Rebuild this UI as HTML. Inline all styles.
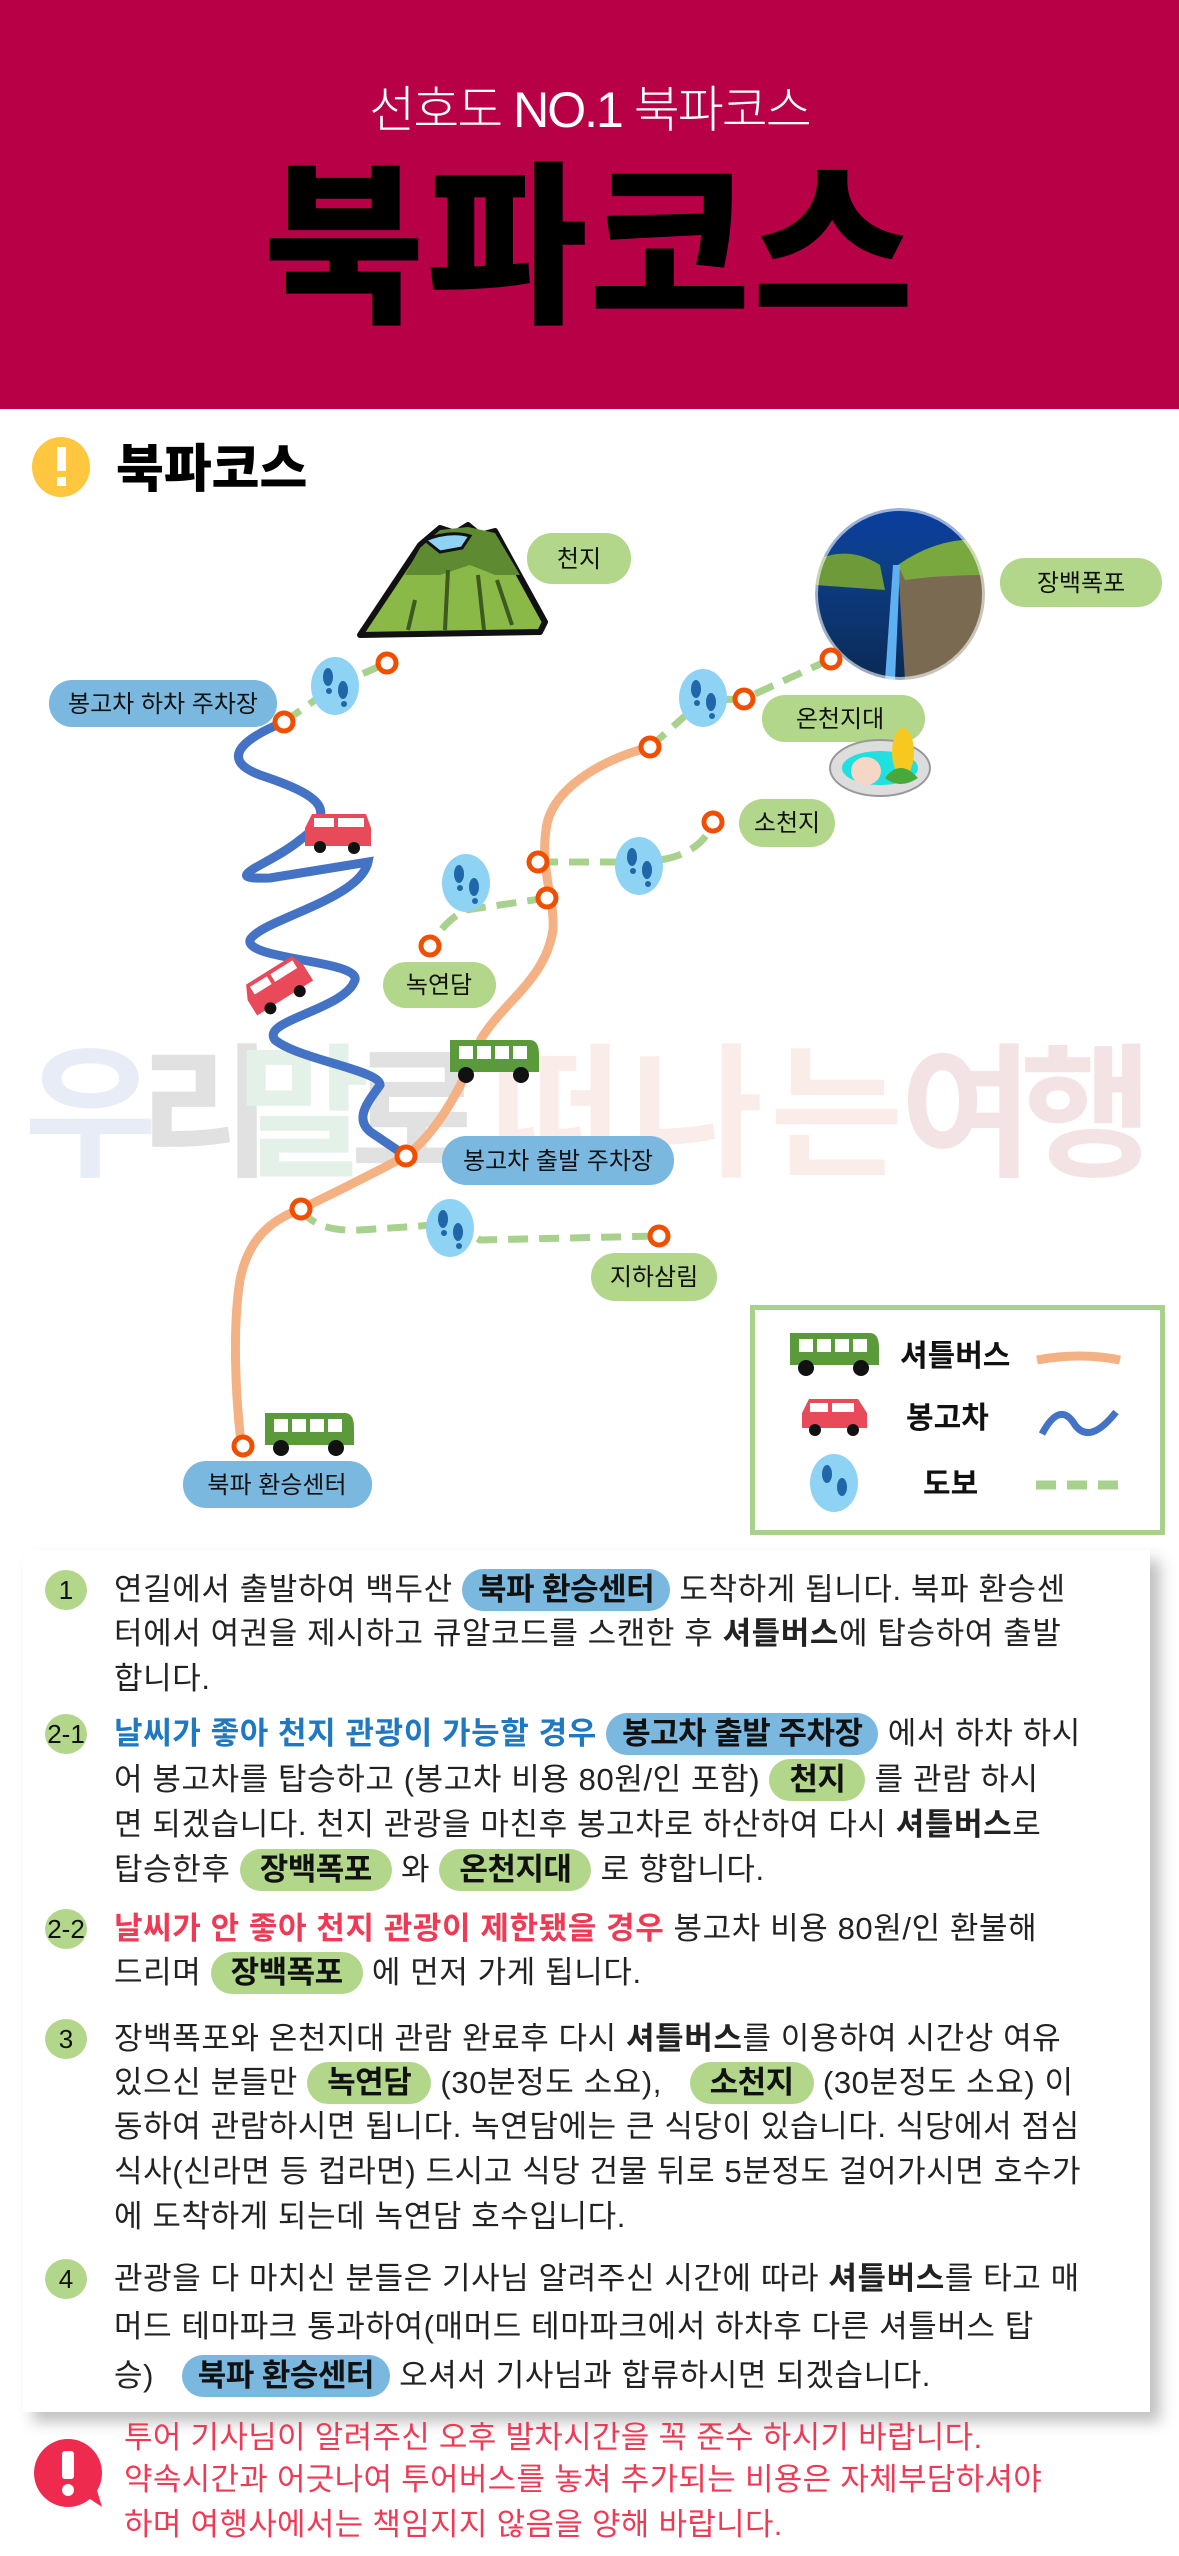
<!DOCTYPE html>
<html><head><meta charset="utf-8">
<style>
*{margin:0;padding:0;box-sizing:border-box}
body{width:1179px;height:2556px;background:#fff;position:relative;overflow:hidden;font-family:"Liberation Sans","Noto Sans CJK KR",sans-serif;color:#222}
.abs{position:absolute}
.hdr{left:0;top:0;width:1179px;height:409px;background:#b80046}
.sub{left:0;width:1179px;top:70px;text-align:center;color:#fff;font-size:50px;font-weight:300;letter-spacing:-2px}
.big{left:0;width:1179px;top:150px;text-align:center;color:#000;font-size:175px;font-weight:900;letter-spacing:2px;line-height:200px}
.ln{position:absolute;left:114px;font-size:31px;line-height:44px;white-space:nowrap;letter-spacing:0.6px;color:#222}
.pb{display:inline-block;background:#7ab8e0;border-radius:22px;padding:0 16px;font-weight:700;color:#111;line-height:42px;letter-spacing:-0.5px}
.pg{display:inline-block;background:#b2d68a;border-radius:22px;padding:0 20px;font-weight:700;color:#111;line-height:42px;letter-spacing:-0.5px}
.num{position:absolute;left:45px;width:42px;height:40px;border-radius:50%;background:#b2d68a;font-size:26px;text-align:center;line-height:40px;color:#111}
.w{position:absolute;left:124px;font-size:31px;line-height:44px;color:#ee3a55;white-space:nowrap;letter-spacing:0.3px}
</style></head><body>
<div class="abs hdr"></div>
<div class="abs sub">선호도 NO.1 북파코스</div>
<div class="abs big">북파코스</div>

<svg class="abs" style="left:0;top:409px" width="1179" height="1140" viewBox="0 409 1179 1140">
<ellipse cx="61" cy="467" rx="29" ry="30" fill="#ffc640"/>
<rect x="57" y="447" width="9" height="24" fill="#fff"/><rect x="57" y="477" width="9" height="9" fill="#fff"/>
<text x="116" y="487" font-size="52" font-weight="900" fill="#000" font-family="Liberation Sans,Noto Sans CJK KR,sans-serif">북파코스</text>

<!-- watermark -->
<g font-size="145" font-weight="700" font-family="Liberation Sans,Noto Sans CJK KR,sans-serif" opacity="0.13">
<text x="24" y="1165" fill="#4f74c0">우</text><text x="139" y="1165" fill="#222">리</text>
<text x="237" y="1165" fill="#2f9a5a">말</text><text x="350" y="1165" fill="#222">로</text>
<text x="490" y="1165" fill="#e07a5a">떠</text><text x="630" y="1165" fill="#e07a5a">나</text><text x="770" y="1165" fill="#e07a5a">는</text>
<text x="900" y="1165" fill="#b0303f">여</text><text x="1020" y="1165" fill="#b0303f">행</text>
</g>

<!-- volcano -->
<path d="M360 635 L420 545 L440 528 L455 533 L468 525 L480 535 L495 531 L545 622 L540 632 Z" fill="#8bb947" stroke="#111" stroke-width="6" stroke-linejoin="round"/>
<path d="M420 548 L440 530 L468 527 L495 533 L520 575 L495 575 L470 565 L440 575 L405 575 Z" fill="#5e8a32"/>
<path d="M425 540 Q450 530 470 536 L462 548 L440 552 Z" fill="#8fd3f4" stroke="#111" stroke-width="3"/>
<g stroke="#3d5a20" stroke-width="4" fill="none"><path d="M415 600 L408 630"/><path d="M448 570 L445 630"/><path d="M478 575 L484 630"/><path d="M497 580 L512 625"/></g>

<!-- waterfall -->
<defs>
<linearGradient id="sky" x1="0" y1="0" x2="0" y2="1"><stop offset="0" stop-color="#0a3ea0"/><stop offset="0.3" stop-color="#0d3f8a"/><stop offset="1" stop-color="#0b2a55"/></linearGradient>
<clipPath id="wc"><ellipse cx="900" cy="594" rx="85" ry="86"/></clipPath>
</defs>
<g clip-path="url(#wc)">
<ellipse cx="900" cy="594" rx="85" ry="86" fill="url(#sky)"/>
<path d="M815 560 Q850 545 880 565 L885 590 L815 585 Z" fill="#6f9a3a"/>
<path d="M898 565 Q940 535 990 545 L990 680 L905 680 Z" fill="#7a6a52"/>
<path d="M898 565 Q940 535 990 540 L990 575 Q940 575 905 580 Z" fill="#79a83e"/>
<path d="M893 565 L900 565 L895 680 L885 680 Z" fill="#5fb0f0"/>
</g>
<ellipse cx="900" cy="594" rx="85" ry="86" fill="none" stroke="#fff" stroke-width="6" opacity="0.6"/>

<!-- blue road -->
<path d="M284 722 C240 740 220 760 260 775 C320 795 340 810 300 840 C270 865 215 880 270 878 L368 862 C360 900 260 920 250 940 C245 960 360 960 355 980 C345 1010 260 1020 275 1040 C300 1060 380 1070 380 1085 C370 1100 350 1120 375 1135 L406 1156" fill="none" stroke="#4472c4" stroke-width="9" stroke-linecap="round"/>

<!-- orange shuttle path -->
<path d="M241 1443 C236 1400 232 1330 240 1280 C248 1240 270 1220 301 1209 C330 1195 370 1175 406 1156 C440 1130 465 1080 481 1039 C505 1000 545 980 553 930 C555 900 540 870 546 830 C550 790 600 760 650 747" fill="none" stroke="#f4b183" stroke-width="9" stroke-linecap="round"/>

<g fill="none" stroke="#a9d18e" stroke-width="7" stroke-dasharray="20 11">
<path d="M284 722 L335 686 L387 663"/>
<path d="M650 747 L703 700 L744 699 L831 659"/>
<path d="M538 862 L639 862 Q700 860 713 822"/>
<path d="M547 898 L466 910 Q445 920 430 946"/>
<path d="M301 1209 Q315 1232 360 1230 L420 1226 Q455 1222 480 1240 L659 1236"/>
</g>

<g fill="#8fd3f4">
<ellipse cx="335" cy="686" rx="24" ry="29"/><ellipse cx="703" cy="698" rx="24" ry="29"/>
<ellipse cx="639" cy="866" rx="24" ry="29"/><ellipse cx="466" cy="883" rx="24" ry="29"/>
<ellipse cx="450" cy="1228" rx="24" ry="29"/>
</g>
<g fill="#1f67a8">
<ellipse cx="328" cy="677" rx="5" ry="9"/><ellipse cx="343" cy="690" rx="5" ry="9"/><circle cx="329" cy="691" r="3"/><circle cx="344" cy="704" r="3"/>
<ellipse cx="696" cy="689" rx="5" ry="9"/><ellipse cx="711" cy="702" rx="5" ry="9"/><circle cx="697" cy="703" r="3"/><circle cx="712" cy="716" r="3"/>
<ellipse cx="632" cy="857" rx="5" ry="9"/><ellipse cx="647" cy="870" rx="5" ry="9"/><circle cx="633" cy="871" r="3"/><circle cx="648" cy="884" r="3"/>
<ellipse cx="459" cy="874" rx="5" ry="9"/><ellipse cx="474" cy="887" rx="5" ry="9"/><circle cx="460" cy="888" r="3"/><circle cx="475" cy="901" r="3"/>
<ellipse cx="443" cy="1219" rx="5" ry="9"/><ellipse cx="458" cy="1232" rx="5" ry="9"/><circle cx="444" cy="1233" r="3"/><circle cx="459" cy="1246" r="3"/>
</g>

<g fill="#fff" stroke="#f04e00" stroke-width="5">
<circle cx="387" cy="663" r="9"/><circle cx="284" cy="722" r="9"/><circle cx="831" cy="659" r="9"/>
<circle cx="744" cy="699" r="9"/><circle cx="650" cy="747" r="9"/><circle cx="713" cy="822" r="9"/>
<circle cx="538" cy="862" r="9"/><circle cx="547" cy="898" r="9"/><circle cx="430" cy="946" r="9"/>
<circle cx="406" cy="1156" r="9"/><circle cx="301" cy="1209" r="9"/><circle cx="659" cy="1236" r="9"/>
<circle cx="243" cy="1446" r="9"/>
</g>

<g>
<path d="M305 828 L312 814 L366 814 L371 828 L371 846 L305 846 Z" fill="#e84a5a"/>
<rect x="314" y="818" width="20" height="9" fill="#fff"/><rect x="338" y="818" width="26" height="9" fill="#fff"/>
<circle cx="320" cy="847" r="6" fill="#111"/><circle cx="354" cy="848" r="6" fill="#111"/>
</g>
<g transform="rotate(-32 279 990)">
<path d="M247 982 L254 968 L308 968 L313 982 L313 1000 L247 1000 Z" fill="#e84a5a"/>
<rect x="256" y="972" width="20" height="9" fill="#fff"/><rect x="280" y="972" width="26" height="9" fill="#fff"/>
<circle cx="262" cy="1001" r="6" fill="#111"/><circle cx="296" cy="1002" r="6" fill="#111"/>
</g>

<g>
<path d="M450 1040 L530 1040 Q539 1040 539 1055 L539 1072 L450 1072 Z" fill="#5a9a3a"/>
<rect x="459" y="1046" width="14" height="13" fill="#fff"/><rect x="477" y="1046" width="14" height="13" fill="#fff"/><rect x="495" y="1046" width="14" height="13" fill="#fff"/><rect x="513" y="1046" width="14" height="13" fill="#fff"/>
<circle cx="466" cy="1075" r="8" fill="#111"/><circle cx="521" cy="1075" r="8" fill="#111"/>
</g>
<g>
<path d="M265 1413 L345 1413 Q354 1413 354 1428 L354 1445 L265 1445 Z" fill="#5a9a3a"/>
<rect x="274" y="1419" width="14" height="13" fill="#fff"/><rect x="292" y="1419" width="14" height="13" fill="#fff"/><rect x="310" y="1419" width="14" height="13" fill="#fff"/><rect x="328" y="1419" width="14" height="13" fill="#fff"/>
<circle cx="281" cy="1448" r="8" fill="#111"/><circle cx="336" cy="1448" r="8" fill="#111"/>
</g>

<g font-family="Liberation Sans,Noto Sans CJK KR,sans-serif" font-size="24" fill="#111" text-anchor="middle">
<rect x="527" y="533" width="104" height="51" rx="25" fill="#b2d68a"/><text x="579" y="567">천지</text>
<rect x="1000" y="558" width="162" height="49" rx="24" fill="#b2d68a"/><text x="1081" y="591">장백폭포</text>
<rect x="49" y="680" width="228" height="47" rx="23" fill="#7ab8e0"/><text x="163" y="712">봉고차 하차 주차장</text>
<rect x="762" y="695" width="163" height="47" rx="23" fill="#b2d68a"/><text x="840" y="727">온천지대</text>
<rect x="739" y="799" width="96" height="48" rx="24" fill="#b2d68a"/><text x="787" y="831">소천지</text>
<rect x="383" y="962" width="113" height="46" rx="23" fill="#b2d68a"/><text x="439" y="993">녹연담</text>
<rect x="442" y="1136" width="232" height="49" rx="24" fill="#7ab8e0"/><text x="558" y="1169">봉고차 출발 주차장</text>
<rect x="591" y="1253" width="126" height="48" rx="24" fill="#b2d68a"/><text x="654" y="1285">지하삼림</text>
<rect x="183" y="1461" width="189" height="47" rx="23" fill="#7ab8e0"/><text x="277" y="1493">북파 환승센터</text>
</g>
<!-- onsen -->
<ellipse cx="880" cy="768" rx="50" ry="28" fill="#ddd" stroke="#999" stroke-width="2"/>
<ellipse cx="880" cy="768" rx="38" ry="17" fill="#20e0e0"/>
<ellipse cx="866" cy="771" rx="15" ry="14" fill="#f6d6c4"/>
<ellipse cx="903" cy="752" rx="11" ry="24" fill="#f6c820"/>
<path d="M885 778 Q900 758 918 778 Q900 790 885 778" fill="#4aa83a"/>

<!-- legend -->
<rect x="752.5" y="1307.5" width="410" height="225" fill="#fff" stroke="#a9d18e" stroke-width="5"/>
<path d="M790 1333 L870 1333 Q879 1333 879 1348 L879 1365 L790 1365 Z" fill="#5a9a3a"/>
<rect x="799" y="1339" width="14" height="13" fill="#fff"/><rect x="817" y="1339" width="14" height="13" fill="#fff"/><rect x="835" y="1339" width="14" height="13" fill="#fff"/><rect x="853" y="1339" width="14" height="13" fill="#fff"/>
<circle cx="806" cy="1368" r="8" fill="#111"/><circle cx="861" cy="1368" r="8" fill="#111"/>
<path d="M802 1413 L809 1399 L858 1399 L867 1413 L867 1428 L802 1428 Z" fill="#e84a5a"/>
<rect x="810" y="1403" width="18" height="9" fill="#fff"/><rect x="832" y="1403" width="22" height="9" fill="#fff"/>
<circle cx="815" cy="1430" r="6" fill="#111"/><circle cx="853" cy="1430" r="6" fill="#111"/>
<ellipse cx="834" cy="1483" rx="24" ry="29" fill="#8fd3f4"/>
<ellipse cx="827" cy="1474" rx="5" ry="9" fill="#1f67a8"/><ellipse cx="842" cy="1487" rx="5" ry="9" fill="#1f67a8"/>
<g font-family="Liberation Sans,Noto Sans CJK KR,sans-serif" font-size="30" font-weight="700" fill="#111">
<text x="900" y="1366">셔틀버스</text><text x="906" y="1428">봉고차</text><text x="923" y="1494">도보</text>
</g>
<path d="M1037 1360 Q1080 1352 1120 1360" stroke="#f4b183" stroke-width="9" fill="none"/>
<path d="M1042 1434 Q1060 1400 1075 1425 Q1090 1445 1116 1412" stroke="#4472c4" stroke-width="7" fill="none"/>
<path d="M1036 1485 L1124 1485" stroke="#a9d18e" stroke-width="9" stroke-dasharray="20 11"/>
</svg>

<div class="abs" style="left:23px;top:1550px;width:1127px;height:862px;background:#fff;box-shadow:10px 10px 14px rgba(0,0,0,0.25)"></div>

<div class="num" style="top:1570px">1</div>
<div class="ln" style="top:1568px">연길에서 출발하여 백두산 <span class="pb">북파 환승센터</span> 도착하게 됩니다. 북파 환승센</div>
<div class="ln" style="top:1612px">터에서 여권을 제시하고 큐알코드를 스캔한 후 <b>셔틀버스</b>에 탑승하여 출발</div>
<div class="ln" style="top:1657px">합니다.</div>

<div class="num" style="top:1714px">2-1</div>
<div class="ln" style="top:1712px"><b style="color:#1f78c0">날씨가 좋아 천지 관광이 가능할 경우</b> <span class="pb">봉고차 출발 주차장</span> 에서 하차 하시</div>
<div class="ln" style="top:1758px">어 봉고차를 탑승하고 (봉고차 비용 80원/인 포함) <span class="pg">천지</span> 를 관람 하시</div>
<div class="ln" style="top:1803px">면 되겠습니다. 천지 관광을 마친후 봉고차로 하산하여 다시 <b>셔틀버스</b>로</div>
<div class="ln" style="top:1848px">탑승한후 <span class="pg">장백폭포</span> 와 <span class="pg">온천지대</span> 로 향합니다.</div>

<div class="num" style="top:1909px">2-2</div>
<div class="ln" style="top:1907px"><b style="color:#ee3a55">날씨가 안 좋아 천지 관광이 제한됐을 경우</b> 봉고차 비용 80원/인 환불해</div>
<div class="ln" style="top:1951px">드리며 <span class="pg">장백폭포</span> 에 먼저 가게 됩니다.</div>

<div class="num" style="top:2019px">3</div>
<div class="ln" style="top:2017px">장백폭포와 온천지대 관람 완료후 다시 <b>셔틀버스</b>를 이용하여 시간상 여유</div>
<div class="ln" style="top:2061px">있으신 분들만 <span class="pg">녹연담</span> (30분정도 소요), &nbsp;&nbsp;<span class="pg">소천지</span> (30분정도 소요) 이</div>
<div class="ln" style="top:2105px">동하여 관람하시면 됩니다. 녹연담에는 큰 식당이 있습니다. 식당에서 점심</div>
<div class="ln" style="top:2150px">식사(신라면 등 컵라면) 드시고 식당 건물 뒤로 5분정도 걸어가시면 호수가</div>
<div class="ln" style="top:2195px">에 도착하게 되는데 녹연담 호수입니다.</div>

<div class="num" style="top:2259px">4</div>
<div class="ln" style="top:2257px">관광을 다 마치신 분들은 기사님 알려주신 시간에 따라 <b>셔틀버스</b>를 타고 매</div>
<div class="ln" style="top:2305px">머드 테마파크 통과하여(매머드 테마파크에서 하차후 다른 셔틀버스 탑</div>
<div class="ln" style="top:2354px">승) &nbsp;&nbsp;<span class="pb">북파 환승센터</span> 오셔서 기사님과 합류하시면 되겠습니다.</div>

<svg class="abs" style="left:32px;top:2437px" width="75" height="75">
<circle cx="36" cy="36" r="34" fill="#ee2a4e"/>
<path d="M55 60 L70 70 L64 50 Z" fill="#ee2a4e"/>
<rect x="30" y="14" width="12" height="28" rx="3" fill="#fff"/><circle cx="36" cy="53" r="6" fill="#fff"/>
</svg>
<div class="w" style="top:2416px">투어 기사님이 알려주신 오후 발차시간을 꼭 준수 하시기 바랍니다.</div>
<div class="w" style="top:2458px">약속시간과 어긋나여 투어버스를 놓쳐 추가되는 비용은 자체부담하셔야</div>
<div class="w" style="top:2503px">하며 여행사에서는 책임지지 않음을 양해 바랍니다.</div>
</body></html>
